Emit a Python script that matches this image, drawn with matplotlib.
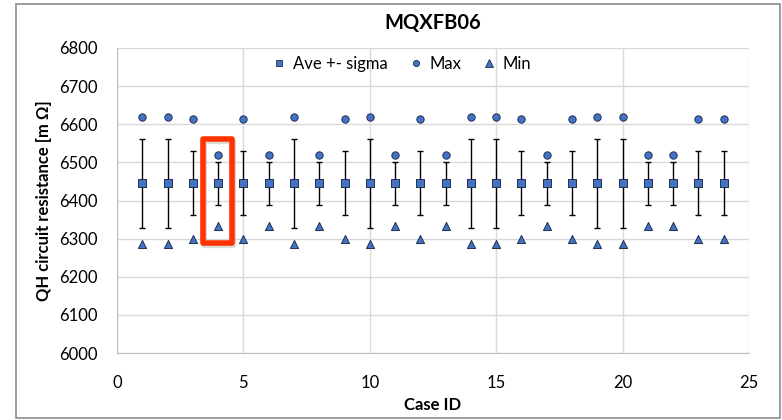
import numpy as np
import matplotlib
matplotlib.use('Agg')
import matplotlib.pyplot as plt
from matplotlib.patches import Rectangle
from matplotlib.lines import Line2D

plt.rcParams['font.family'] = ['Lato', 'DejaVu Sans']

# three test configurations repeat over the 24 cases
case_id = np.arange(1, 25)
group = ['A', 'A', 'B', 'C', 'B', 'C', 'A', 'C', 'B', 'A', 'C', 'B',
         'C', 'A', 'A', 'B', 'C', 'B', 'A', 'A', 'C', 'C', 'B', 'B']
ave_of = {'A': 6445, 'B': 6445, 'C': 6445}
sigma_of = {'A': 117, 'B': 84, 'C': 57}
max_of = {'A': 6620, 'B': 6613, 'C': 6520}
min_of = {'A': 6286, 'B': 6300, 'C': 6333}

ave = np.array([ave_of[g] for g in group])
sigma = np.array([sigma_of[g] for g in group])
vmax = np.array([max_of[g] for g in group])
vmin = np.array([min_of[g] for g in group])

blue = '#4472C4'
edge = '#1F2F50'

W, H = 782, 420
fig = plt.figure(figsize=(W / 100, H / 100), dpi=100)
ax = fig.add_axes([117 / W, 1 - 353 / H, (749 - 117) / W, (353 - 48) / H])

ax.errorbar(case_id, ave, yerr=sigma, fmt='none', ecolor='black',
            elinewidth=1.0, capsize=2.3, capthick=1.0, zorder=3)
ax.scatter(case_id, ave, marker='s', s=26, color=blue, edgecolors=edge,
           linewidths=0.7, zorder=4)
ax.scatter(case_id, vmax, marker='o', s=28, color=blue, edgecolors=edge,
           linewidths=0.7, zorder=4)
ax.scatter(case_id, vmin, marker='^', s=34, color=blue, edgecolors=edge,
           linewidths=0.7, zorder=4)

ax.set_xlim(0, 25)
ax.set_ylim(6000, 6800)
ax.set_xticks(range(0, 26, 5))
ax.set_yticks(range(6000, 6801, 100))
ax.grid(True, color='#D9D9D9', linewidth=1.0)
ax.set_axisbelow(True)
for s in ['top', 'right']:
    ax.spines[s].set_visible(False)
for s in ['left', 'bottom']:
    ax.spines[s].set_color('#BFBFBF')
ax.tick_params(axis='y', length=0, labelsize=12, colors='black', pad=14)
ax.tick_params(axis='x', length=0, labelsize=12, colors='black', pad=16)

ax.set_xlabel('Case ID', fontsize=12, fontweight='bold', labelpad=4)
ax.set_ylabel('QH circuit resistance [m Ω]', fontsize=12, fontweight='bold',
              labelpad=5)
fig.text(433 / W, 1 - 23 / H, 'MQXFB06', ha='center', va='center',
         fontsize=14.5, fontweight='bold')

handles = [
    Line2D([], [], marker='s', ls='none', ms=5, mfc=blue, mec=edge, mew=0.6),
    Line2D([], [], marker='o', ls='none', ms=4.5, mfc=blue, mec=edge, mew=0.6),
    Line2D([], [], marker='^', ls='none', ms=5.5, mfc=blue, mec=edge, mew=0.6),
]
fig.legend(handles, ['Ave +- sigma', 'Max', 'Min'], loc='center',
           bbox_to_anchor=(402 / W, 1 - 64 / H), ncol=3, frameon=False,
           fontsize=12, handlelength=0.8, handletextpad=0.4,
           columnspacing=1.3)

# highlight box around case 4
hl = dict(x0=3.41, x1=4.53, y0=6289, y1=6560)
ax.add_patch(Rectangle((hl['x0'] + 0.05, hl['y0'] - 5),
                       hl['x1'] - hl['x0'], hl['y1'] - hl['y0'],
                       fill=False, edgecolor='#999999', linewidth=4.5,
                       alpha=0.35, joinstyle='round', zorder=5))
ax.add_patch(Rectangle((hl['x0'], hl['y0']), hl['x1'] - hl['x0'],
                       hl['y1'] - hl['y0'], fill=False, edgecolor='#FF3300',
                       linewidth=4, joinstyle='round', zorder=6))

# chart border
fig.patches.append(Rectangle((16 / W, 1 - 418 / H), (780 - 16) / W,
                             (418 - 4) / H, transform=fig.transFigure,
                             fill=False, edgecolor='#8C8C8C', linewidth=1.2))

fig.savefig('out.png', dpi=100)
